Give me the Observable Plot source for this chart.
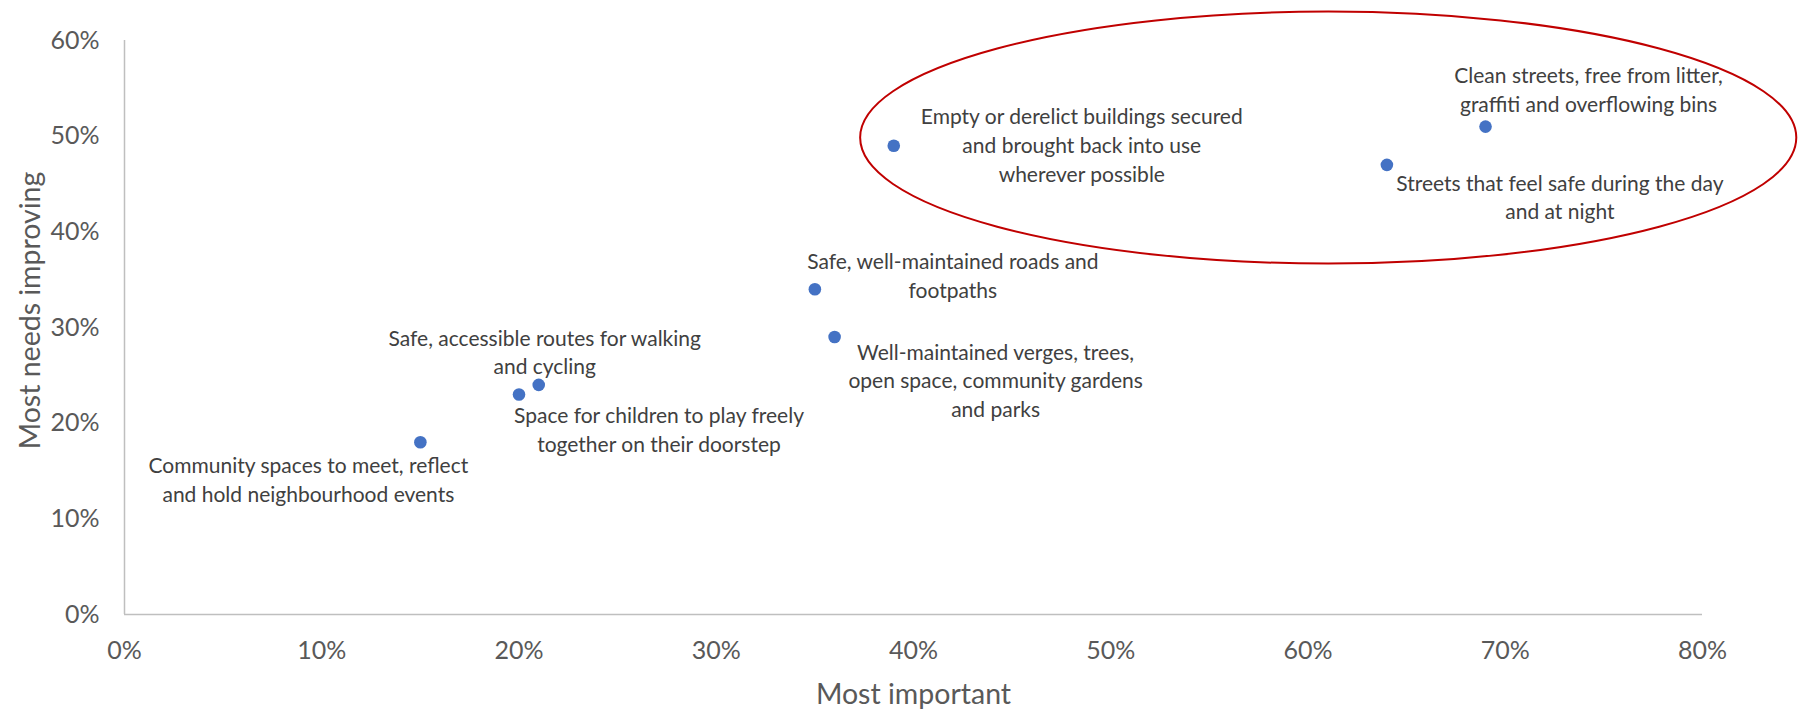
<!DOCTYPE html>
<html>
<head>
<meta charset="utf-8">
<script src="https://cdn.jsdelivr.net/npm/d3@7"></script>
<script src="https://cdn.jsdelivr.net/npm/@observablehq/plot@0.6"></script>
<style>
  html, body { margin: 0; padding: 0; background: #fff; }
  #chart { width: 1798px; height: 709px; }
</style>
</head>
<body>
<div id="chart"></div>
<script>
// ---- Data ----
const categories = [
  "Community spaces to meet, reflect\nand hold neighbourhood events",
  "Space for children to play freely\ntogether on their doorstep",
  "Safe, accessible routes for walking\nand cycling",
  "Safe, well-maintained roads and\nfootpaths",
  "Well-maintained verges, trees,\nopen space, community gardens\nand parks",
  "Empty or derelict buildings secured\nand brought back into use\nwherever possible",
  "Streets that feel safe during the day\nand at night",
  "Clean streets, free from litter,\ngraffiti and overflowing bins"
];
const mostImportant = [0.15, 0.20, 0.21, 0.35, 0.36, 0.39, 0.64, 0.69];
const mostNeedsImproving = [0.18, 0.23, 0.24, 0.34, 0.29, 0.49, 0.47, 0.51];
const xTicks = [0, 0.1, 0.2, 0.3, 0.4, 0.5, 0.6, 0.7, 0.8];
const yTicks = [0, 0.1, 0.2, 0.3, 0.4, 0.5, 0.6];
const xTitle = "Most important";
const yTitle = "Most needs improving";
// highlighted group (ellipse): centre and radii in data units
const ellipseCenter = [0.6105, 0.498];
const ellipseRadii = [0.2373, 0.1317];

// ---- Label placement (pixel offsets, style only) ----
const labelOffsets = [
  [-112, 36], [140, 34], [6, -34], [138, -15], [161, 42], [188, -2], [173, 31], [103, -38]
];

const data = categories.map((c, i) => ({label: c, x: mostImportant[i], y: mostNeedsImproving[i]}));

const pct = d3.format(".0%");
const FONT = "Lato, 'Open Sans', sans-serif";

const textMarks = data.map((d, i) => Plot.text([d], {
  x: "x", y: "y", text: "label",
  dx: labelOffsets[i][0], dy: labelOffsets[i][1],
  textAnchor: "middle", lineAnchor: "middle", lineHeight: 1.37,
  fontSize: 21, fill: "#404040"
}));

const chart = Plot.plot({
  width: 1798,
  height: 709,
  marginLeft: 124,
  marginRight: 96,
  marginTop: 40,
  marginBottom: 95,
  style: {fontFamily: FONT, background: "#fff", overflow: "visible"},
  x: {domain: [0, 0.8]},
  y: {domain: [0, 0.6]},
  marks: [
    Plot.axisX({ticks: xTicks, tickFormat: pct, tickSize: 0, tickPadding: 27, fontSize: 25, color: "#595959", label: null}),
    Plot.axisY({ticks: yTicks, tickFormat: pct, tickSize: 0, tickPadding: 25, fontSize: 25, color: "#595959", label: null}),
    Plot.ruleY([0], {stroke: "#bfbfbf", strokeWidth: 1.5}),
    Plot.ruleX([0], {stroke: "#bfbfbf", strokeWidth: 1.5}),
    Plot.text([xTitle], {frameAnchor: "bottom", dy: 80, fontSize: 28.5, fill: "#595959", lineAnchor: "middle"}),
    Plot.text([yTitle], {frameAnchor: "left", textAnchor: "middle", dx: -94, dy: -17, rotate: -90, fontSize: 28.5, fill: "#595959", lineAnchor: "middle"}),
    Plot.dot(data, {x: "x", y: "y", r: 6.3, fill: "#4472c4", stroke: null}),
    ...textMarks
  ]
});

// Ellipse annotation drawn through the plot's own scales
const sx = chart.scale("x"), sy = chart.scale("y");
const cx = sx.apply(ellipseCenter[0]), cy = sy.apply(ellipseCenter[1]);
const rx = sx.apply(ellipseCenter[0] + ellipseRadii[0]) - cx;
const ry = cy - sy.apply(ellipseCenter[1] + ellipseRadii[1]);
const ell = document.createElementNS("http://www.w3.org/2000/svg", "ellipse");
ell.setAttribute("cx", cx); ell.setAttribute("cy", cy);
ell.setAttribute("rx", rx); ell.setAttribute("ry", ry);
ell.setAttribute("fill", "none"); ell.setAttribute("stroke", "#c00000"); ell.setAttribute("stroke-width", 2);
chart.appendChild(ell);

document.getElementById("chart").appendChild(chart);
</script>
</body>
</html>
